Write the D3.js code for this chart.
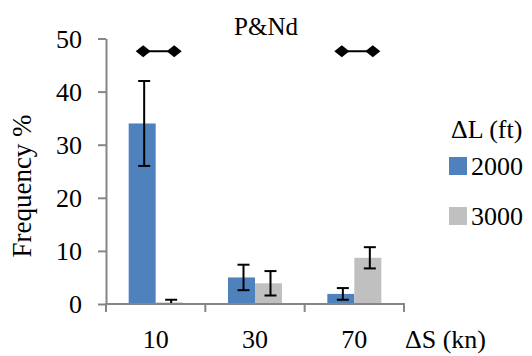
<!DOCTYPE html>
<html>
<head>
<script src="https://cdn.jsdelivr.net/npm/d3@7/dist/d3.min.js"></script>
</head>
<body style="margin:0">
<script>
    var categories = ["10", "30", "70"];
    var seriesNames = ["2000", "3000"];
    var values2000 = [34.0, 5.0, 1.9];
    var values3000 = [0.3, 3.9, 8.7];
    var errors2000 = [8.0, 2.4, 1.1];
    var errors3000 = [0.5, 2.3, 2.0];
    var sigCategories = ["10", "70"];
    var sigLevel = 47.6;
    var yTicks = [0, 10, 20, 30, 40, 50];

    var colors = {"2000": "#4F81BD", "3000": "#C0C0C0"};
    var width = 532, height = 356;
    var serif = "Liberation Serif";

    var rows = [];
    categories.forEach(function (c, i) {
        rows.push({cat: c, key: "2000", value: values2000[i], err: errors2000[i]});
        rows.push({cat: c, key: "3000", value: values3000[i], err: errors3000[i]});
    });

    var svg = d3.select("body").append("svg")
        .attr("width", width)
        .attr("height", height)
        .attr("font-family", serif)
        .style("font-family", serif);

    function label(g, x, y, size, txt) {
        return g.append("text")
            .attr("x", x).attr("y", y)
            .attr("font-family", serif)
            .attr("style", "font-family: '" + serif + "' !important; font-size: " + size + "px")
            .text(txt);
    }

    var x0 = d3.scaleBand().domain(categories).range([106, 404]);
    var x1 = d3.scaleBand().domain(seriesNames)
        .range([0, x0.bandwidth()])
        .paddingOuter(0.84);
    var y = d3.scaleLinear().domain([0, 50]).range([304, 38.5]);

    // bars
    svg.append("g").selectAll("rect")
        .data(rows)
        .enter().append("rect")
        .attr("x", function (d) { return x0(d.cat) + x1(d.key); })
        .attr("width", x1.bandwidth())
        .attr("y", function (d) { return y(d.value); })
        .attr("height", function (d) { return y(0) - y(d.value); })
        .attr("fill", function (d) { return colors[d.key]; });

    // error bars
    var cx = function (d) { return x0(d.cat) + x1(d.key) + x1.bandwidth() / 2 + 2; };
    var eb = svg.append("g").attr("stroke", "#000").attr("stroke-width", 2);
    rows.forEach(function (d) {
        var top = y(d.value + d.err), bot = y(Math.max(0, d.value - d.err)), x = cx(d);
        eb.append("line").attr("x1", x).attr("x2", x).attr("y1", top).attr("y2", bot);
        eb.append("line").attr("x1", x - 6).attr("x2", x + 6).attr("y1", top).attr("y2", top);
        eb.append("line").attr("x1", x - 6).attr("x2", x + 6).attr("y1", bot).attr("y2", bot);
    });

    // y axis: line and ticks from d3, labels by hand
    var yAxis = svg.append("g")
        .attr("transform", "translate(106,0)")
        .call(d3.axisLeft(y).tickValues(yTicks).tickSize(8).tickSizeOuter(0).tickFormat(""));
    yAxis.selectAll("path, line").attr("stroke", "#868686").attr("stroke-width", 2);
    yTicks.forEach(function (t) {
        label(svg, 82, y(t) + 9, 26, t).attr("text-anchor", "end");
    });

    // x axis
    var xg = svg.append("g");
    xg.append("line")
        .attr("x1", 105).attr("x2", 405)
        .attr("y1", y(0)).attr("y2", y(0))
        .attr("stroke", "#868686").attr("stroke-width", 2);
    var bounds = categories.map(function (c) { return x0(c); }).concat([x0.range()[1]]);
    xg.selectAll(".tick")
        .data(bounds)
        .enter().append("line")
        .attr("x1", function (d) { return d; })
        .attr("x2", function (d) { return d; })
        .attr("y1", y(0)).attr("y2", y(0) + 8)
        .attr("stroke", "#868686").attr("stroke-width", 2);
    categories.forEach(function (c) {
        label(xg, x0(c) + x0.bandwidth() / 2, 348, 26, c).attr("text-anchor", "middle");
    });

    // significance markers
    var diamond = "M0,-6L7.5,0L0,6L-7.5,0Z";
    var sig = svg.append("g");
    sigCategories.forEach(function (c) {
        var xa = x0(c) + x1("2000") + x1.bandwidth() / 2 + 1;
        var xb = x0(c) + x1("3000") + x1.bandwidth() / 2 + 5;
        sig.append("line")
            .attr("x1", xa).attr("x2", xb)
            .attr("y1", y(sigLevel)).attr("y2", y(sigLevel))
            .attr("stroke", "#000").attr("stroke-width", 2);
        [xa, xb].forEach(function (xx) {
            sig.append("path")
                .attr("d", diamond)
                .attr("transform", "translate(" + xx + "," + y(sigLevel) + ")")
                .attr("fill", "#000");
        });
    });

    // titles
    label(svg, 266, 35, 25, "P&Nd").attr("text-anchor", "middle");
    label(svg, 0, 0, 27, "Frequency %")
        .attr("transform", "translate(31,186) rotate(-90)")
        .attr("text-anchor", "middle");
    label(svg, 405, 348, 26, "ΔS (kn)");

    // legend
    var legend = svg.append("g");
    label(legend, 451, 138, 26, "ΔL (ft)");
    seriesNames.forEach(function (s, i) {
        legend.append("rect")
            .attr("x", 449).attr("y", 157 + i * 50)
            .attr("width", 18).attr("height", 18)
            .attr("fill", colors[s]);
        label(legend, 471, 175 + i * 50, 26, s);
    });
</script>
<style>svg text { font-family: "Liberation Serif" !important; }</style>
</body>
</html>
